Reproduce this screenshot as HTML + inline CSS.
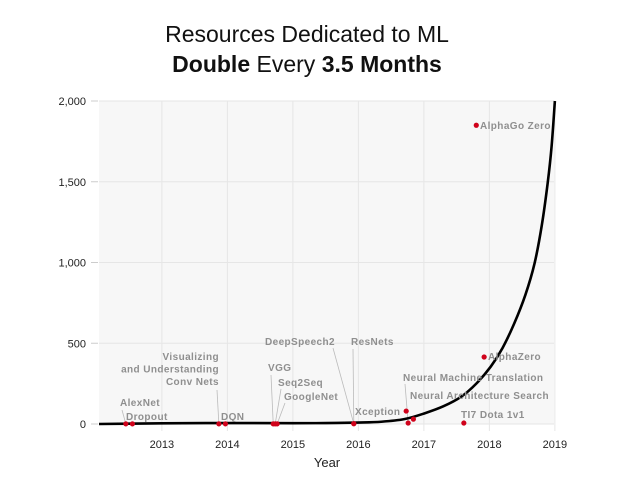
<!DOCTYPE html>
<html><head><meta charset="utf-8"><style>
body{margin:0;background:#fff;}
svg{display:block;font-family:"Liberation Sans",sans-serif;}
.lbl{font-size:10px;font-weight:bold;fill:#8f8f8f;letter-spacing:0.4px;}
.tick{font-size:11px;fill:#222;}
.lead{stroke:#bbb;stroke-width:0.8;}
</style></head><body>
<svg id="chart" width="640" height="480">
<text x="307" y="42" text-anchor="middle" font-size="23" fill="#111">Resources Dedicated to ML</text>
<text x="307" y="72" text-anchor="middle" font-size="23" fill="#111"><tspan font-weight="bold">Double</tspan> Every <tspan font-weight="bold">3.5 Months</tspan></text>
<rect x="99" y="101" width="455" height="323" fill="#f7f7f7"/>
<g id="grid"></g><g id="axes"></g><g id="leads"></g><g id="curve"></g><g id="dots"></g><g id="labels"></g>
<text x="327" y="467" text-anchor="middle" font-size="13" fill="#222">Year</text>
</svg>
<script>
const xTicks=[2013,2014,2015,2016,2017,2018,2019];
const yTicks=[0,500,1000,1500,2000];
const yTickLabels=["0","500","1,000","1,500","2,000"];
const curveYears=[2012.04,2013,2014,2015,2015.5,2016,2016.35,2016.7,2017.01,2017.3,2017.57,2017.8,2018.02,2018.2,2018.38,2018.55,2018.69,2018.8,2018.89,2018.95,2019];
const curveValues=[0,4,6,5,6,9,14,30,66,110,169,250,355,470,623,800,995,1230,1492,1720,2000];
const pointNames=["AlexNet","Dropout","Visualizing and Understanding Conv Nets","DQN","VGG","Seq2Seq","GoogleNet","DeepSpeech2","ResNets","Xception","Neural Machine Translation","Neural Architecture Search","TI7 Dota 1v1","AlphaZero","AlphaGo Zero"];
const pointYears=[2012.45,2012.55,2013.87,2013.97,2014.7,2014.73,2014.76,2015.93,2015.93,2016.73,2016.76,2016.84,2017.61,2017.92,2017.8];
const pointValues=[1,1,1,1,1,1,1,2,2,80,6,30,6,415,1850];
const x=t=>99+(t-2012.04)*65.5;
const y=v=>424-v*323/2000;
const NS="http://www.w3.org/2000/svg";
function mk(tag,attrs,parent,text){const e=document.createElementNS(NS,tag);for(const k in attrs)e.setAttribute(k,attrs[k]);if(text!==undefined)e.textContent=text;document.getElementById(parent).appendChild(e);return e;}
yTicks.forEach((v,i)=>{
 const g=mk('line',{x1:99,x2:554,y1:y(v),y2:y(v),stroke:'#e6e6e6','stroke-width':1},'grid');
 
 const t=mk('line',{x1:91,x2:98,y1:y(v),y2:y(v),stroke:'#ccc','stroke-width':1},'axes');
 
 const l=mk('text',{x:86,y:y(v)+4,'text-anchor':'end',class:'tick'},'axes',yTickLabels[i]);
 
});
xTicks.forEach(t=>{
 const g=mk('line',{x1:x(t),x2:x(t),y1:101,y2:431,stroke:'#e6e6e6','stroke-width':1},'grid');
 
 const l=mk('text',{x:x(t),y:448,'text-anchor':'middle',class:'tick'},'axes',String(t));
 
});
// catmull-rom curve
const P=curveYears.map((t,i)=>[x(t),y(curveValues[i])]);
let d='M'+P[0][0]+','+P[0][1];
for(let i=0;i<P.length-1;i++){const p0=P[Math.max(0,i-1)],p1=P[i],p2=P[i+1],p3=P[Math.min(P.length-1,i+2)];
 d+=' C'+(p1[0]+(p2[0]-p0[0])/6)+','+(p1[1]+(p2[1]-p0[1])/6)+' '+(p2[0]-(p3[0]-p1[0])/6)+','+(p2[1]-(p3[1]-p1[1])/6)+' '+p2[0]+','+p2[1];}
const c=mk('path',{d:d,fill:'none',stroke:'#000','stroke-width':2.6},'curve');

// label layout: [x,y,anchor,lines, leader from (lx,ly)]
const lay=[[120,406,'start',["AlexNet"],122,410],[126,420,'start',["Dropout"],null],
[219,360,'end',["Visualizing","and Understanding","Conv Nets"],217,390],[221,420,'start',["DQN"],null],
[268,371,'start',["VGG"],271,375],[278,386,'start',["Seq2Seq"],281,389],[284,400,'start',["GoogleNet"],285,403],
[265,345,'start',["DeepSpeech2"],333,348],[351,345,'start',["ResNets"],353,349],[355,415,'start',["Xception"],null],
[403,381,'start',["Neural Machine Translation"],405,384],[410,399,'start',["Neural Architecture Search"],null],
[461,418,'start',["TI7 Dota 1v1"],null],[488,360,'start',["AlphaZero"],null],[480,129,'start',["AlphaGo Zero"],null]];
pointNames.forEach((n,i)=>{
 const L=lay[i],px=x(pointYears[i]),py=y(pointValues[i]);
 if(L[4]!==null){const ln=mk('line',{x1:L[4],y1:L[5],x2:px,y2:py,class:'lead'},'leads');
  }
 const dt=mk('circle',{cx:px,cy:py,r:2.6,fill:'#d0021b'},'dots');
 
 
 const tx=mk('text',{x:L[0],y:L[1],'text-anchor':L[2],class:'lbl'},'labels');
 
 
 L[3].forEach((s,j)=>{const ts=document.createElementNS(NS,'tspan');ts.setAttribute('x',L[0]);ts.setAttribute('y',L[1]+j*12.5);ts.textContent=s;tx.appendChild(ts);});
});
</script>
</body></html>
